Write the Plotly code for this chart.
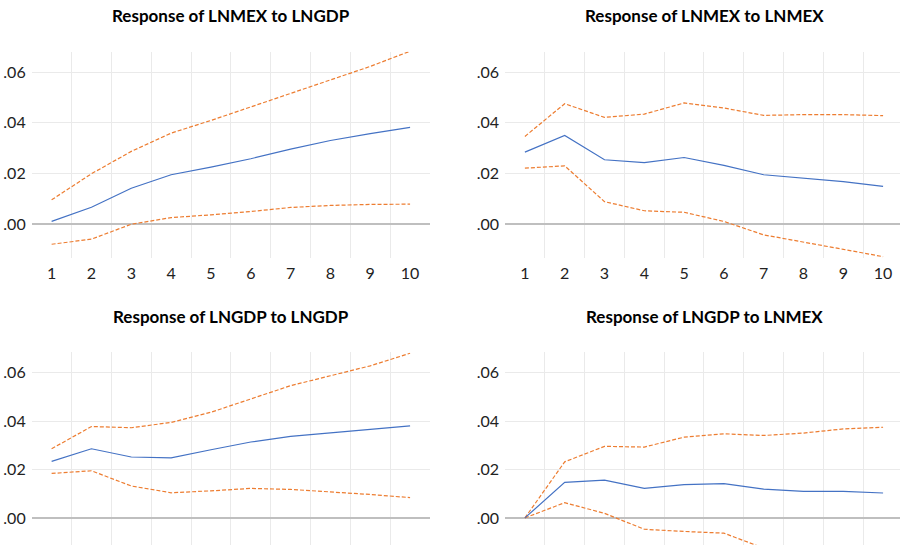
import plotly.graph_objects as go

periods = [1, 2, 3, 4, 5, 6, 7, 8, 9, 10]

titles = [
    "Response of LNMEX to LNGDP",
    "Response of LNMEX to LNMEX",
    "Response of LNGDP to LNGDP",
    "Response of LNGDP to LNMEX",
]

# Response of LNMEX to LNGDP
mex_gdp = [0.0011, 0.0067, 0.0142, 0.0195, 0.0225, 0.0258, 0.0296, 0.0330, 0.0357, 0.0382]
mex_gdp_hi = [0.0096, 0.0199, 0.0287, 0.0359, 0.0409, 0.0462, 0.0517, 0.0570, 0.0622, 0.0682]
mex_gdp_lo = [-0.0079, -0.0059, 0.0000, 0.0026, 0.0037, 0.0050, 0.0066, 0.0074, 0.0078, 0.0079]

# Response of LNMEX to LNMEX
mex_mex = [0.0284, 0.0350, 0.0254, 0.0243, 0.0263, 0.0232, 0.0195, 0.0182, 0.0168, 0.0149]
mex_mex_hi = [0.0346, 0.0475, 0.0421, 0.0434, 0.0478, 0.0458, 0.0429, 0.0432, 0.0432, 0.0428]
mex_mex_lo = [0.0221, 0.0230, 0.0089, 0.0053, 0.0047, 0.0011, -0.0042, -0.0072, -0.0099, -0.0128]

# Response of LNGDP to LNGDP
gdp_gdp = [0.0234, 0.0286, 0.0252, 0.0248, 0.0282, 0.0314, 0.0337, 0.0351, 0.0364, 0.0381]
gdp_gdp_hi = [0.0286, 0.0378, 0.0373, 0.0395, 0.0437, 0.0492, 0.0547, 0.0588, 0.0629, 0.0681]
gdp_gdp_lo = [0.0184, 0.0195, 0.0132, 0.0104, 0.0112, 0.0122, 0.0118, 0.0108, 0.0097, 0.0084]

# Response of LNGDP to LNMEX
gdp_mex = [0.0000, 0.0147, 0.0156, 0.0122, 0.0138, 0.0142, 0.0119, 0.0110, 0.0110, 0.0103]
gdp_mex_hi = [0.0000, 0.0232, 0.0296, 0.0293, 0.0334, 0.0348, 0.0341, 0.0351, 0.0368, 0.0375]
gdp_mex_lo = [0.0000, 0.0063, 0.0019, -0.0047, -0.0056, -0.0063, -0.0125, -0.0145, -0.0160, -0.0175]

y_tickvals = [0.0, 0.02, 0.04, 0.06]
y_ticktext = [".00", ".02", ".04", ".06"]
x_ticktext = ["1", "2", "3", "4", "5", "6", "7", "8", "9", "10"]

BLUE = "#4472C4"
ORANGE = "#ED7D31"
GRID = "#EAEAEA"
ZERO = "#BFBFBF"
FONT = "Lato"

W, H = 900, 545

def px_x(p):
    return p / W

def px_y(p):
    return 1 - p / H

panels = [
    # (series, hi, lo, x-domain px, y-domain px, xrange, yrange, show x labels)
    (mex_gdp, mex_gdp_hi, mex_gdp_lo, (31.7, 430), (51.7, 257.7), [0.5, 10.5], [-0.0132, 0.068], True),
    (mex_mex, mex_mex_hi, mex_mex_lo, (505, 900), (51.7, 257.7), [0.5, 10.425], [-0.0132, 0.068], True),
    (gdp_gdp, gdp_gdp_hi, gdp_gdp_lo, (31.7, 430), (352.3, 545), [0.5, 10.5], [-0.0112, 0.0685], False),
    (gdp_mex, gdp_mex_hi, gdp_mex_lo, (505, 900), (352.3, 545), [0.5, 10.425], [-0.0112, 0.0685], False),
]

fig = go.Figure()
annotations = []
for i, (mid, hi, lo, xd, yd, xr, yr, showx) in enumerate(panels):
    n = i + 1
    xa = "x" if n == 1 else f"x{n}"
    ya = "y" if n == 1 else f"y{n}"
    for vals, color, dash in ((hi, ORANGE, "dash"), (lo, ORANGE, "dash"), (mid, BLUE, "solid")):
        fig.add_trace(go.Scatter(
            x=periods, y=vals, mode="lines", xaxis=xa, yaxis=ya,
            line=dict(color=color, width=1.2, dash="4px,2px" if dash == "dash" else "solid"),
            showlegend=False, hoverinfo="skip", cliponaxis=True,
        ))
    xkey = "xaxis" if n == 1 else f"xaxis{n}"
    ykey = "yaxis" if n == 1 else f"yaxis{n}"
    fig.layout[xkey] = dict(
        domain=[px_x(xd[0]), px_x(xd[1])], range=xr, anchor=ya,
        tickmode="array", tickvals=periods, ticktext=x_ticktext,
        showticklabels=showx, showgrid=False, zeroline=False, showline=False,
        ticks="", ticklabelstandoff=4,
        tickfont=dict(family=FONT, size=16, color="#222222"),
        minor=dict(tickmode="array", tickvals=[p + 0.5 for p in periods[:-1]],
                   showgrid=True, gridcolor=GRID, gridwidth=1.2, ticks=""),
        fixedrange=True,
    )
    fig.layout[ykey] = dict(
        domain=[px_y(yd[1]), px_y(yd[0])], range=yr, anchor=xa,
        tickmode="array", tickvals=y_tickvals, ticktext=y_ticktext,
        showgrid=True, gridcolor=GRID, gridwidth=1.2,
        zeroline=True, zerolinecolor=ZERO, zerolinewidth=1.6, showline=False,
        ticks="", ticklabelstandoff=5,
        tickfont=dict(family=FONT, size=16, color="#222222"),
        fixedrange=True,
    )
    annotations.append(dict(
        text=f"<b>{titles[i]}</b>", xref="paper", yref="paper",
        x=px_x((xd[0] + xd[1]) / 2 if n % 2 == 1 else 704), y=px_y(15 if n <= 2 else 316),
        xanchor="center", yanchor="middle", showarrow=False,
        font=dict(family=FONT, size=17, color="#000000"),
    ))

fig.update_layout(
    width=W, height=H, margin=dict(l=0, r=0, t=0, b=0),
    paper_bgcolor="white", plot_bgcolor="white",
    annotations=annotations,
)

fig.write_html(
    "out.html", include_plotlyjs=True, config={"displayModeBar": False},
    post_script="document.body.style.margin='0';document.body.style.overflow='hidden';",
)
